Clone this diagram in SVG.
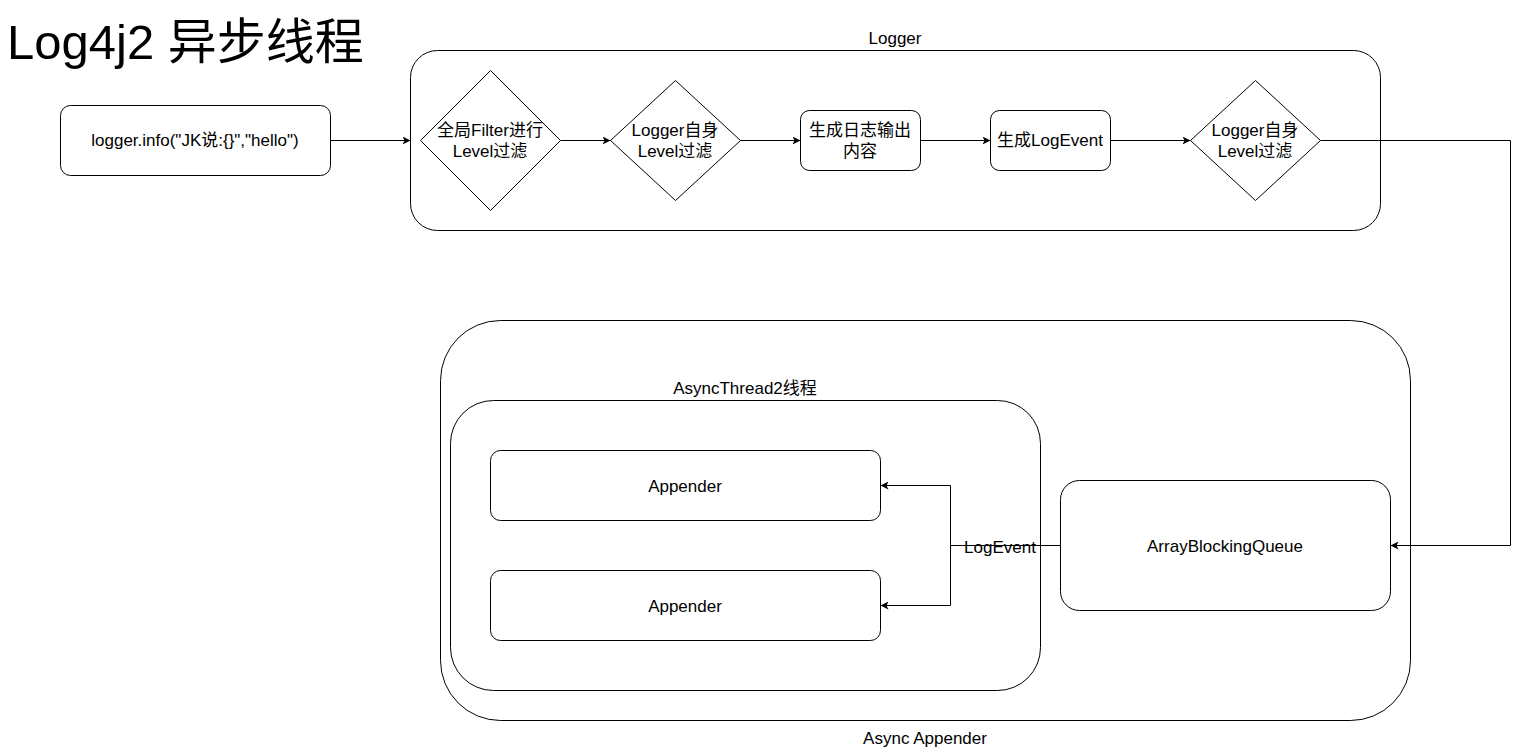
<svg xmlns="http://www.w3.org/2000/svg" width="1520" height="749" viewBox="0 0 1520 749">
<style>
.s{fill:#fff;stroke:#000;stroke-width:1}
.c{fill:none;stroke:#000;stroke-width:1}
text{font-family:"Liberation Sans","Noto Sans CJK SC",Arial,sans-serif;fill:#000;font-size:17px;text-anchor:middle;dominant-baseline:central}
</style>
<defs>
<marker id="a" viewBox="0 0 8 8" refX="8" refY="4" markerWidth="8" markerHeight="8" markerUnits="userSpaceOnUse" orient="auto">
<path d="M0,0 L8,4 L0,8 L2,4 Z" fill="#000"/>
</marker>
</defs>
<rect width="1520" height="749" fill="#fff"/>
<text x="7" y="42" style="font-size:49px;text-anchor:start">Log4j2 异步线程</text>

<g id="logger-container">
<rect class="s" x="410.5" y="50.5" width="970" height="180" rx="27" ry="27"/>
<text x="895" y="38">Logger</text>
</g>
<g id="async-appender">
<rect class="s" x="440.5" y="320.5" width="970" height="400" rx="60" ry="60"/>
<text x="925" y="738">Async Appender</text>
</g>
<g id="async-thread">
<rect class="s" x="450.5" y="400.5" width="590" height="290" rx="43" ry="43"/>
<text x="745" y="388">AsyncThread2线程</text>
</g>

<g id="call">
<rect class="s" x="60.5" y="105.5" width="270" height="70" rx="10" ry="10"/>
<text x="195" y="140">logger.info("JK说:{}","hello")</text>
</g>
<g id="global-filter">
<path class="s" d="M490.5,70.5 L560.5,140.5 L490.5,210.5 L420.5,140.5 Z"/>
<text x="490" y="130">全局Filter进行</text>
<text x="490" y="151">Level过滤</text>
</g>
<g id="logger-level1">
<path class="s" d="M675.5,80.5 L740.5,140.5 L675.5,200.5 L610.5,140.5 Z"/>
<text x="675" y="130">Logger自身</text>
<text x="675" y="151">Level过滤</text>
</g>
<g id="gen-content">
<rect class="s" x="800.5" y="110.5" width="120" height="60" rx="9" ry="9"/>
<text x="860" y="130">生成日志输出</text>
<text x="860" y="151">内容</text>
</g>
<g id="gen-logevent">
<rect class="s" x="990.5" y="110.5" width="120" height="60" rx="9" ry="9"/>
<text x="1050" y="140">生成LogEvent</text>
</g>
<g id="logger-level2">
<path class="s" d="M1255.5,80.5 L1320.5,140.5 L1255.5,200.5 L1190.5,140.5 Z"/>
<text x="1255" y="130">Logger自身</text>
<text x="1255" y="151">Level过滤</text>
</g>
<g id="appender1">
<rect class="s" x="490.5" y="450.5" width="390" height="70" rx="10" ry="10"/>
<text x="685" y="486">Appender</text>
</g>
<g id="appender2">
<rect class="s" x="490.5" y="570.5" width="390" height="70" rx="10" ry="10"/>
<text x="685" y="606">Appender</text>
</g>
<g id="queue">
<rect class="s" x="1060.5" y="480.5" width="330" height="130" rx="19" ry="19"/>
<text x="1225" y="546">ArrayBlockingQueue</text>
</g>

<g id="connectors">
<path class="c" d="M330.5,140.5 L410.5,140.5" marker-end="url(#a)"/>
<path class="c" d="M560.5,140.5 L610.5,140.5" marker-end="url(#a)"/>
<path class="c" d="M740.5,140.5 L800.5,140.5" marker-end="url(#a)"/>
<path class="c" d="M920.5,140.5 L990.5,140.5" marker-end="url(#a)"/>
<path class="c" d="M1110.5,140.5 L1190.5,140.5" marker-end="url(#a)"/>
<path class="c" d="M1320.5,140.5 L1510.5,140.5 L1510.5,545.5 L1390.5,545.5" marker-end="url(#a)"/>
<path class="c" d="M1060.5,545.5 L950.5,545.5 L950.5,485.5 L880.5,485.5" marker-end="url(#a)"/>
<path class="c" d="M950.5,545.5 L950.5,605.5 L880.5,605.5" marker-end="url(#a)"/>
<text x="1000" y="547">LogEvent</text>
</g>
</svg>
